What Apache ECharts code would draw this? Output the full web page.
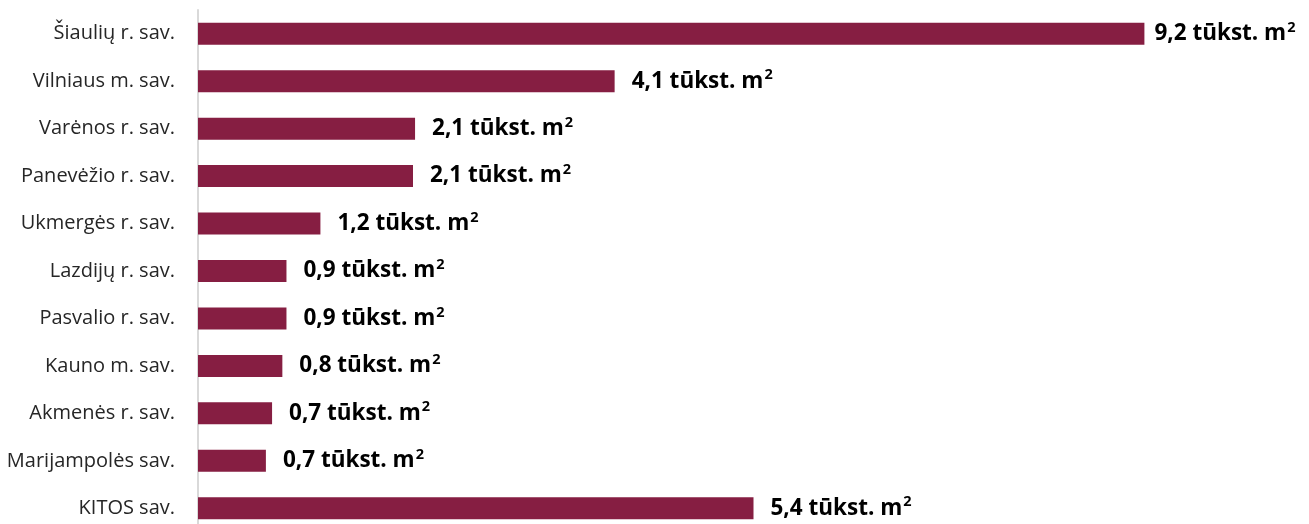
<!DOCTYPE html>
<html><head><meta charset="utf-8">
<script src="https://cdn.jsdelivr.net/npm/echarts@6/dist/echarts.min.js"></script>
<style>html,body{margin:0;padding:0;background:#fff;overflow:hidden;width:1309px;height:524px}#c{width:1309px;height:532px}</style>
</head><body><div id="c"></div>
<script>
const categories = ["Šiaulių r. sav.","Vilniaus m. sav.","Varėnos r. sav.","Panevėžio r. sav.","Ukmergės r. sav.","Lazdijų r. sav.","Pasvalio r. sav.","Kauno m. sav.","Akmenės r. sav.","Marijampolės sav.","KITOS sav."];
const values = [9.2, 4.05, 2.11, 2.09, 1.19, 0.86, 0.86, 0.82, 0.72, 0.66, 5.4];
const labels = ["9,2","4,1","2,1","2,1","1,2","0,9","0,9","0,8","0,7","0,7","5,4"];
const unit = "tūkst. m";

const chart = echarts.init(document.getElementById('c'));
const data = values.map((v, i) => i === 0 ? {value: v, label: {distance: 10}} : v);
chart.setOption({
  animation: false,
  grid: {left: 198, right: 0, top: 10, bottom: 0, containLabel: false},
  xAxis: {type: 'value', min: 0, max: 10.8, show: false},
  yAxis: {
    type: 'category', inverse: true, data: categories,
    axisLine: {show: true, lineStyle: {color: '#d9d9d9', width: 2}},
    axisTick: {show: false},
    axisLabel: {fontFamily: 'Open Sans', fontSize: 20, color: '#262626', margin: 23}
  },
  series: [{
    type: 'bar', barWidth: 22,
    data: data,
    itemStyle: {color: '#861E42'},
    label: {
      show: true, position: 'right', distance: 17,
      formatter: p => '{a|' + labels[p.dataIndex] + ' ' + unit + '}{s|2}',
      rich: {
        a: {fontFamily: 'Open Sans', fontWeight: 'bold', fontSize: 22.5, color: '#000'},
        s: {fontFamily: 'Open Sans', fontWeight: 'bold', fontSize: 14.5, color: '#000', verticalAlign: 'bottom', padding: [0,0,12,1]}
      }
    }
  }]
});
</script></body></html>
